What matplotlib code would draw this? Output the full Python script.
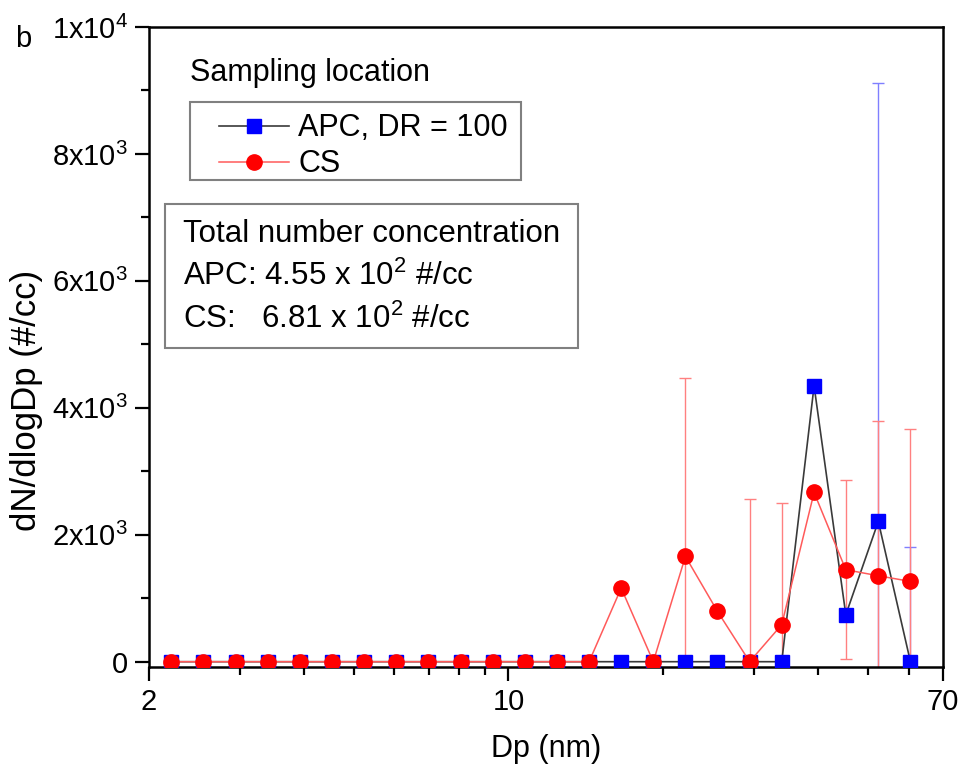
import matplotlib
matplotlib.use('Agg')
import matplotlib.pyplot as plt
from matplotlib.patches import Rectangle

plt.rcParams['font.family'] = ['Liberation Sans', 'DejaVu Sans']
plt.rcParams['mathtext.fontset'] = 'custom'
plt.rcParams['mathtext.rm'] = 'Liberation Sans'
plt.rcParams['mathtext.it'] = 'Liberation Sans:italic'

# particle diameter channels (nm)
dp = [2.21, 2.55, 2.95, 3.41, 3.93, 4.54, 5.24, 6.05, 6.99, 8.07, 9.32, 10.76,
      12.43, 14.35, 16.57, 19.13, 22.09, 25.5, 29.45, 34.0, 39.3, 45.3, 52.4, 60.5]

# dN/dlogDp (#/cc)
apc = [0, 0, 0, 0, 0, 0, 0, 0, 0, 0, 0, 0,
       0, 0, 0, 0, 0, 0, 0, 0, 4346, 740, 2210, 0]
apc_err = [0, 0, 0, 0, 0, 0, 0, 0, 0, 0, 0, 0,
           0, 0, 0, 0, 0, 0, 0, 0, 0, 0, 6908, 1806]
cs = [0, 0, 0, 0, 0, 0, 0, 0, 0, 0, 0, 0,
      0, 0, 1160, 0, 1659, 793, 0, 583, 2666, 1449, 1354, 1265]
cs_err = [0, 0, 0, 0, 0, 0, 0, 0, 0, 0, 0, 0,
          0, 0, 0, 0, 2818, 0, 2567, 1916, 0, 1406, 2441, 2400]

yticks = [0, 2000, 4000, 6000, 8000, 10000]
ylabels = ['0', '2x10$^{3}$', '4x10$^{3}$', '6x10$^{3}$', '8x10$^{3}$', '1x10$^{4}$']
xticks = [2, 10, 70]

fig = plt.figure(figsize=(9.65, 7.67), dpi=100)
ax = fig.add_axes([0.1544, 0.1300, 0.8228, 0.8348])

# error bars
ax.errorbar(dp, apc, yerr=apc_err, fmt='none', ecolor='#7f7fff', elinewidth=1.0,
            capsize=4.5, capthick=1.0, zorder=1)
ax.errorbar(dp, cs, yerr=cs_err, fmt='none', ecolor='#ff8080', elinewidth=1.0,
            capsize=4.5, capthick=1.0, zorder=2)

# lines + markers
l_apc, = ax.plot(dp, apc, color='#3a3a3a', lw=1.2, marker='s', ms=9.5,
                 mfc='#0000ff', mec='#0000ff', zorder=3, label='APC, DR = 100')
l_cs, = ax.plot(dp, cs, color='#ff5a5a', lw=1.1, marker='o', ms=11,
                mfc='#ff0000', mec='#ff0000', zorder=5, label='CS')

ax.set_xscale('log')
ax.set_xlim(2, 70)
ax.set_ylim(-88, 10000)
ax.set_xticks(xticks)
ax.set_xticklabels([str(t) for t in xticks])
ax.set_xticks([3, 4, 5, 6, 7, 8, 9, 20, 30, 40, 50, 60], minor=True)
ax.xaxis.set_minor_formatter(plt.NullFormatter())
ax.set_yticks(yticks)
ax.set_yticklabels(ylabels)
ax.set_yticks([1000, 3000, 5000, 7000, 9000], minor=True)

ax.tick_params(which='major', direction='out', length=10, width=1.6,
               labelsize=21, pad=5)
ax.tick_params(which='minor', direction='out', length=6, width=1.6)
ax.tick_params(top=False, right=False, which='both')
for s in ax.spines.values():
    s.set_linewidth(1.8)

ax.set_xlabel('Dp (nm)', fontsize=22)
ax.set_ylabel('dN/dlogDp (#/cc)', fontsize=25)
ax.xaxis.set_label_coords(0.5, -0.104)
ax.yaxis.set_label_coords(-0.134, 0.416)

# legend: title outside, frame drawn separately
fig.text(0.1969, 0.8944, 'Sampling location', fontsize=22, va='baseline')
fig.patches.append(Rectangle((0.1969, 0.7653), 0.343, 0.1017, transform=fig.transFigure,
                             fill=False, edgecolor='#808080', lw=1.5))
leg = fig.legend(handles=[l_apc, l_cs], loc='upper left',
                 bbox_to_anchor=(0.2269, 0.8524), bbox_transform=fig.transFigure,
                 fontsize=22, frameon=False, borderaxespad=0,
                 handlelength=2.3, handletextpad=0.3, labelspacing=0.2,
                 borderpad=0, numpoints=1)

# total concentration box
fig.patches.append(Rectangle((0.171, 0.5463), 0.428, 0.1877, transform=fig.transFigure,
                             fill=False, edgecolor='#808080', lw=1.5))
fig.text(0.1896, 0.6849, 'Total number concentration', fontsize=22.5, va='baseline')
fig.text(0.1896, 0.6284, 'APC: 4.55 x 10$^{2}$ #/cc', fontsize=22.5, va='baseline')
fig.text(0.1896, 0.5724, 'CS:   6.81 x 10$^{2}$ #/cc', fontsize=22.5, va='baseline')

fig.text(0.0155, 0.9387, 'b', fontsize=21, va='baseline')

fig.savefig('out.png', dpi=100)
